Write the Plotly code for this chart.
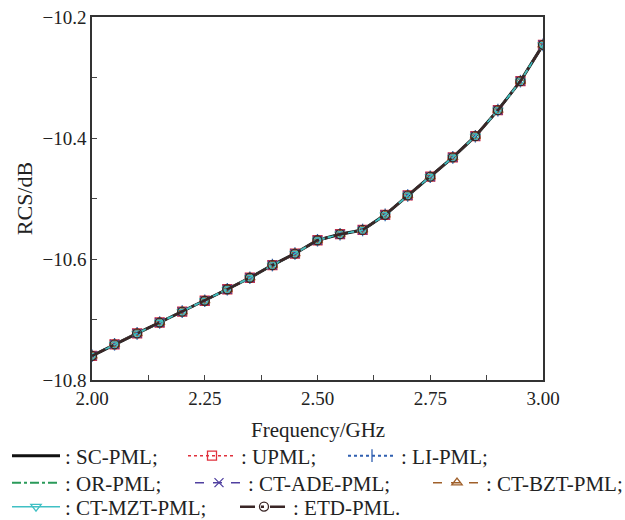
import plotly.graph_objects as go

freq = [2.00, 2.05, 2.10, 2.15, 2.20, 2.25, 2.30, 2.35, 2.40, 2.45, 2.50,
        2.55, 2.60, 2.65, 2.70, 2.75, 2.80, 2.85, 2.90, 2.95, 3.00]
rcs = [-10.760, -10.741, -10.723, -10.705, -10.687, -10.669, -10.650, -10.631,
       -10.610, -10.591, -10.569, -10.559, -10.552, -10.527, -10.495, -10.464,
       -10.432, -10.397, -10.354, -10.306, -10.246]

series_names = [": SC-PML;", ": UPML;", ": LI-PML;",
                ": OR-PML;", ": CT-ADE-PML;", ": CT-BZT-PML;",
                ": CT-MZT-PML;", ": ETD-PML."]
series_values = {name: rcs for name in series_names}
x_title = "Frequency/GHz"
y_title = "RCS/dB"

styles = [
    dict(color="#111111", dash="solid", width=3, symbol=None),
    dict(color="#e0303c", dash="dot", width=1.5, symbol="square-open"),
    dict(color="#2f5fb0", dash="dot", width=2, symbol="line-ns-open"),
    dict(color="#2a9a5a", dash="dashdot", width=2, symbol=None),
    dict(color="#5040a0", dash="dash", width=1.5, symbol="x-thin-open"),
    dict(color="#a0602a", dash="dash", width=1.5, symbol="triangle-up-open"),
    dict(color="#40c0c4", dash="solid", width=1.5, symbol="triangle-down-open"),
    dict(color="#3a2626", dash="longdashdot", width=2.5, symbol="circle-open"),
]

# legend entry anchor positions (container fractions): one legend per entry
legend_x = [0.0112, 0.2928, 0.5488, 0.0112, 0.304, 0.6848, 0.0112, 0.376]
legend_y = [0.1231, 0.0712, 0.025]
legend_row = [0, 0, 0, 1, 1, 1, 2, 2]

fig = go.Figure()
for i, (name, st) in enumerate(zip(series_names, styles)):
    mode = "lines+markers" if st["symbol"] else "lines"
    marker = dict(symbol=st["symbol"], size=9, color=st["color"],
                  line=dict(color=st["color"], width=1.3)) if st["symbol"] else None
    fig.add_trace(go.Scatter(
        x=freq, y=series_values[name], name=name, mode=mode, showlegend=True,
        line=dict(color=st["color"], dash=st["dash"], width=st["width"]),
        marker=marker, legend="legend" if i == 0 else f"legend{i+1}"))

font = dict(family="Liberation Serif", size=18, color="#222222")
legfont = dict(family="Liberation Serif", size=21, color="#222222")
legend_common = dict(orientation="h", xanchor="left", yanchor="middle",
                     xref="container", yref="container", visible=True,
                     font=legfont, itemwidth=48, bgcolor="rgba(0,0,0,0)",
                     traceorder="normal", tracegroupgap=0)

legends = {}
for i in range(len(series_names)):
    key = "legend" if i == 0 else f"legend{i+1}"
    legends[key] = dict(x=legend_x[i], y=legend_y[legend_row[i]], **legend_common)

fig.update_layout(
    width=625, height=520, showlegend=True,
    margin=dict(l=92, r=82, t=17, b=140, autoexpand=False),
    paper_bgcolor="white", plot_bgcolor="white",
    font=font,
    xaxis=dict(range=[2.0, 3.0], tickvals=[2.0, 2.25, 2.5, 2.75, 3.0],
               ticktext=["2.00", "2.25", "2.50", "2.75", "3.00"],
               tickfont=dict(size=19),
               ticks="inside", ticklen=5, tickcolor="#444",
               minor=dict(dtick=0.125, ticks="inside", ticklen=5, tickcolor="#444"),
               showline=True, linecolor="#333", linewidth=1.5, mirror=True,
               showgrid=False, zeroline=False),
    yaxis=dict(range=[-10.8, -10.2], tickvals=[-10.8, -10.6, -10.4, -10.2],
               ticktext=["\u221210.8", "\u221210.6", "\u221210.4", "\u221210.2"],
               tickfont=dict(size=19),
               ticks="inside", ticklen=5, tickcolor="#444",
               minor=dict(tickvals=[-10.7, -10.5, -10.3], ticks="inside", ticklen=5, tickcolor="#444"),
               showline=True, linecolor="#333", linewidth=1.5, mirror=True,
               showgrid=False, zeroline=False,
               title=dict(text=y_title, standoff=4)),
    annotations=[dict(text=x_title, xref="paper", yref="paper", x=0.5, y=-0.138,
                      xanchor="center", yanchor="middle", showarrow=False,
                      font=dict(family="Liberation Serif", size=21, color="#222222"))],
    **legends,
)

fig.write_html("out.html")
